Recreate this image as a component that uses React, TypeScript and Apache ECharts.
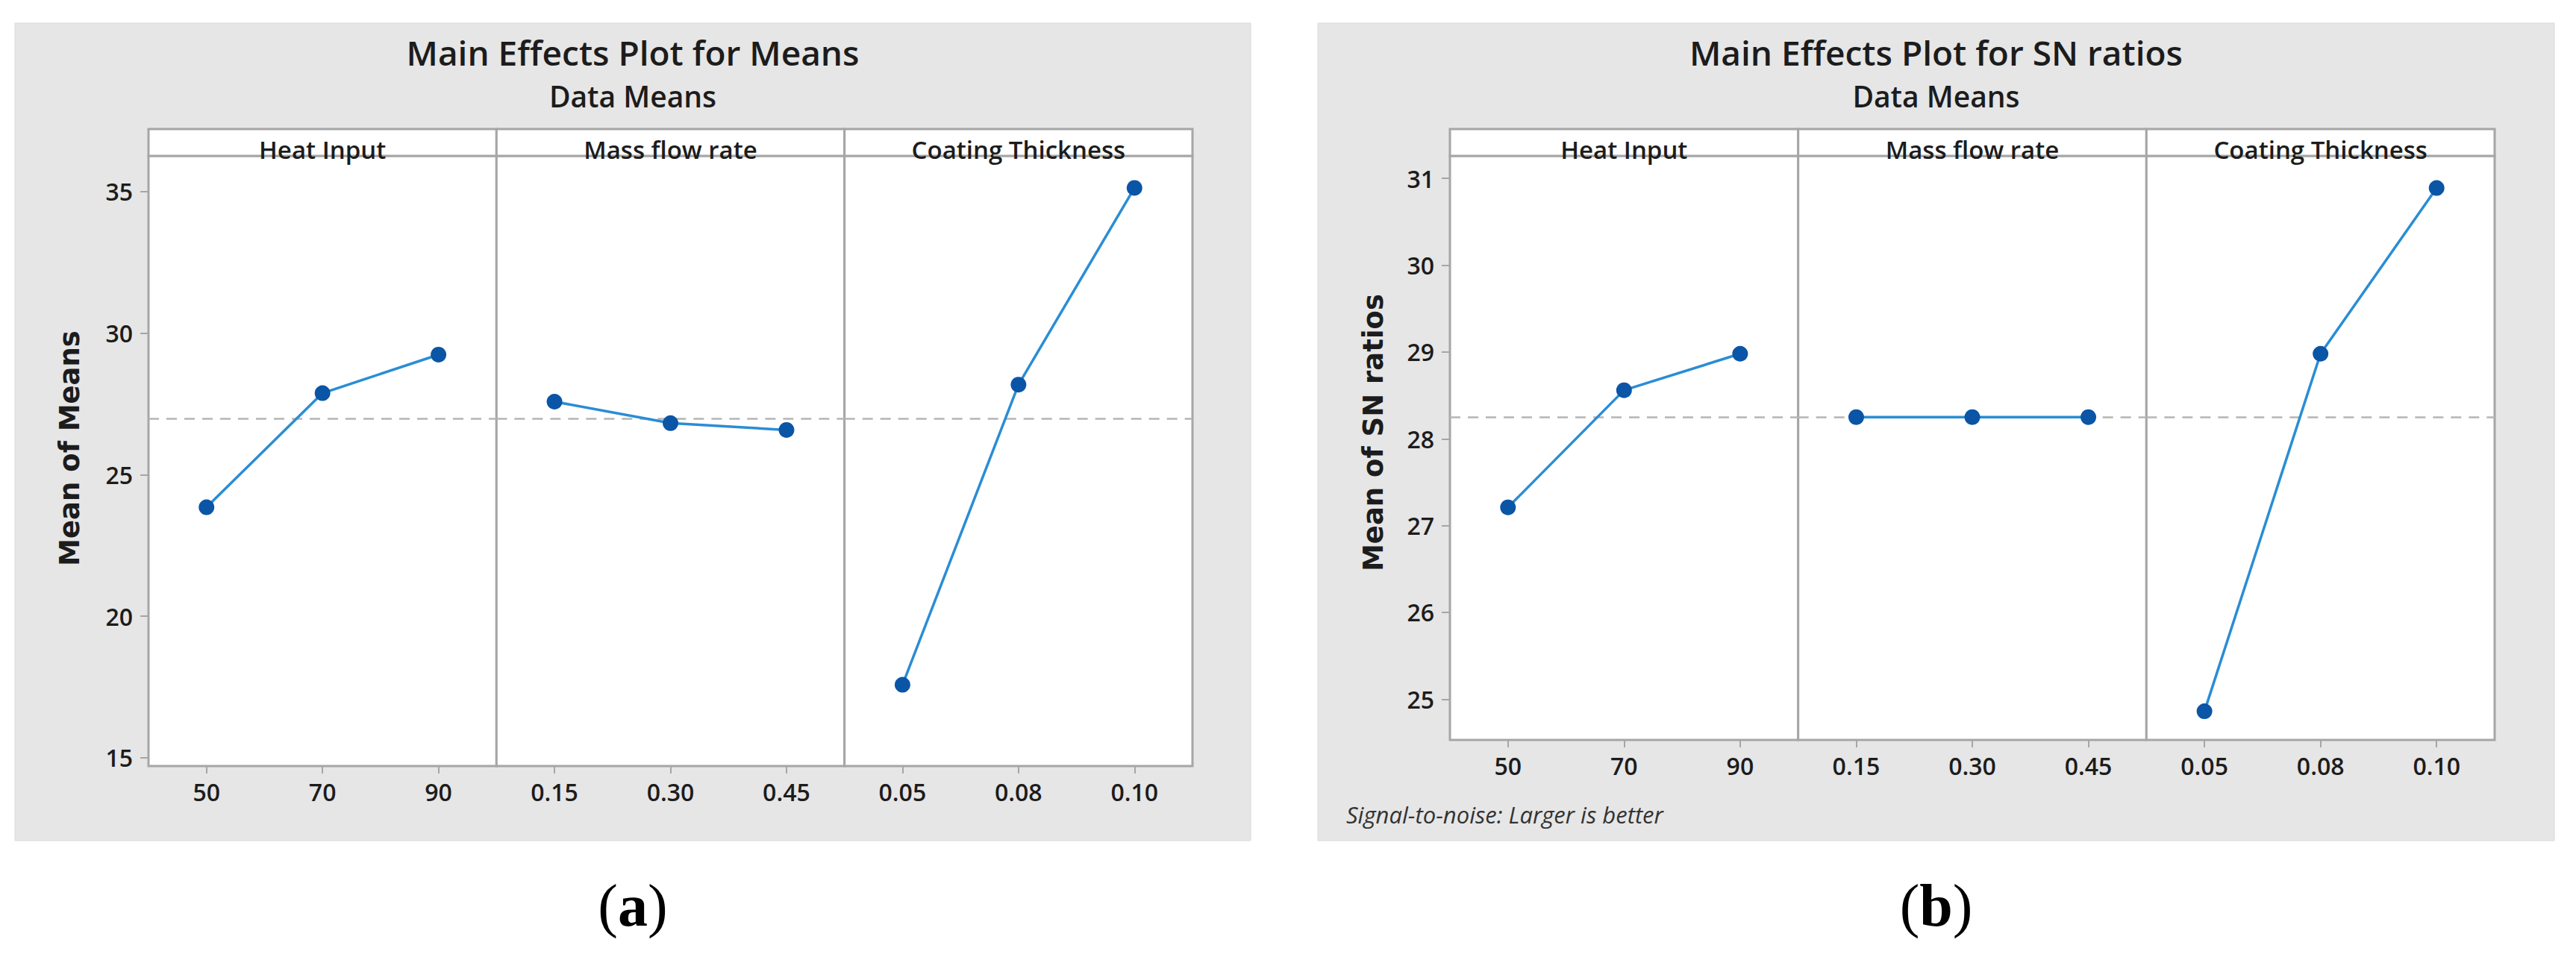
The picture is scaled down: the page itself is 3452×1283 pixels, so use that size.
import React, { useEffect, useRef } from "react";
import * as echarts from "echarts";

// ---------- data ----------
const factorNames = ["Heat Input", "Mass flow rate", "Coating Thickness"];
const heatInputLevels = ["50", "70", "90"];
const massFlowLevels = ["0.15", "0.30", "0.45"];
const coatingLevels = ["0.05", "0.08", "0.10"];

const meansHeat = [23.85, 27.88, 29.24];
const meansMass = [27.58, 26.82, 26.58];
const meansCoat = [17.58, 28.18, 35.13];

const snHeat = [27.21, 28.56, 28.98];
const snMass = [28.25, 28.25, 28.25];
const snCoat = [24.86, 28.98, 30.89];

const meansTicks = [15, 20, 25, 30, 35];
const snTicks = [25, 26, 27, 28, 29, 30, 31];

const levelSets = [heatInputLevels, massFlowLevels, coatingLevels];

// ---------- layout / style ----------
const W = 3452;
const H = 1283;
const FRAME = "#a6a6a6";
const LINE_BLUE = "#2a8dd4";
const DOT_BLUE = "#0a55a6";
const TXT = "#1c1c1c";

const charts = [
  {
    box: [20, 31, 1656, 1096],
    plotLeft: 199,
    plotRight: 1598,
    stripTop: 173,
    top: 209,
    bottom: 1027,
    yMin: 14.71,
    yMax: 36.26,
    ticks: meansTicks,
    series: [meansHeat, meansMass, meansCoat],
    title: "Main Effects Plot for Means",
    subtitle: "Data Means",
    yName: "Mean of Means",
    yNameX: 93,
    yNameY: 601,
    caption: "a",
    footnote: "",
  },
  {
    box: [1766, 31, 1657, 1096],
    plotLeft: 1943,
    plotRight: 3343,
    stripTop: 173,
    top: 209,
    bottom: 992,
    yMin: 24.53,
    yMax: 31.26,
    ticks: snTicks,
    series: [snHeat, snMass, snCoat],
    title: "Main Effects Plot for SN ratios",
    subtitle: "Data Means",
    yName: "Mean of SN ratios",
    yNameX: 1840,
    yNameY: 580,
    caption: "b",
    footnote: "Signal-to-noise: Larger is better",
  },
];

function grandMean(groups: number[][]) {
  const all = groups.flat();
  return all.reduce((a, b) => a + b, 0) / all.length;
}

function buildOption() {
  const grids: any[] = [];
  const xAxes: any[] = [];
  const yAxes: any[] = [];
  const series: any[] = [];
  const titles: any[] = [];
  const graphics: any[] = [];

  charts.forEach((c, ci) => {
    const [bx, by, bw, bh] = c.box;
    const pw = (c.plotRight - c.plotLeft) / 3;
    const mean = grandMean(c.series);

    graphics.push({
      type: "rect",
      z: -5,
      shape: { x: bx, y: by, width: bw, height: bh },
      style: { fill: "#e6e6e6", stroke: "#d9d9d9", lineWidth: 1 },
      silent: true,
    });

    titles.push({
      text: c.title,
      left: bx + bw / 2,
      top: 47,
      textAlign: "center",
      padding: 0,
      textStyle: {
        fontFamily: "Open Sans",
        fontWeight: 600,
        fontSize: 46,
        lineHeight: 46,
        color: TXT,
      },
    });
    titles.push({
      text: c.subtitle,
      left: bx + bw / 2,
      top: 109,
      textAlign: "center",
      padding: 0,
      textStyle: {
        fontFamily: "Open Sans",
        fontWeight: 600,
        fontSize: 39,
        lineHeight: 39,
        color: TXT,
      },
    });

    for (let p = 0; p < 3; p++) {
      const gi = ci * 3 + p;
      const left = c.plotLeft + p * pw;
      grids.push({
        left,
        top: c.top,
        width: pw,
        height: c.bottom - c.top,
        show: true,
        backgroundColor: "#ffffff",
        borderColor: FRAME,
        borderWidth: 3,
        containLabel: false,
      });
      xAxes.push({
        gridIndex: gi,
        type: "category",
        data: levelSets[p],
        boundaryGap: true,
        axisLine: { show: false },
        axisTick: {
          show: true,
          alignWithLabel: true,
          length: 10,
          lineStyle: { color: FRAME, width: 2 },
        },
        axisLabel: {
          margin: 18,
          fontFamily: "Open Sans",
          fontWeight: 600,
          fontSize: 32,
          color: TXT,
        },
        splitLine: { show: false },
      });
      yAxes.push({
        gridIndex: gi,
        type: "value",
        min: c.yMin,
        max: c.yMax,
        axisLine: { show: false },
        axisTick: {
          show: p === 0,
          length: 11,
          customValues: c.ticks,
          lineStyle: { color: FRAME, width: 2 },
        },
        axisLabel: {
          show: p === 0,
          customValues: c.ticks,
          margin: 21,
          fontFamily: "Open Sans",
          fontWeight: 600,
          fontSize: 32,
          color: TXT,
        },
        splitLine: { show: false },
      });
      series.push({
        type: "line",
        name: `${c.yName} - ${factorNames[p]}`,
        xAxisIndex: gi,
        yAxisIndex: gi,
        data: c.series[p],
        symbol: "circle",
        symbolSize: 21,
        lineStyle: { color: LINE_BLUE, width: 3.5 },
        itemStyle: { color: DOT_BLUE },
        z: 3,
        markLine: {
          silent: true,
          symbol: "none",
          label: { show: false },
          lineStyle: { type: [14, 10], color: "#b5b5b5", width: 2.5 },
          data: [{ yAxis: mean }],
          z: 1,
        },
      });

      // strip header
      graphics.push({
        type: "rect",
        z: 5,
        shape: { x: left, y: c.stripTop, width: pw, height: c.top - c.stripTop },
        style: { fill: "#ffffff", stroke: FRAME, lineWidth: 3 },
        silent: true,
      });
      graphics.push({
        type: "text",
        z: 6,
        x: left + pw / 2,
        y: 200,
        style: {
          text: factorNames[p],
          textAlign: "center",
          textVerticalAlign: "middle",
          fontFamily: "Open Sans",
          fontWeight: 600,
          fontSize: 33,
          fill: TXT,
        },
        silent: true,
      });
    }

    // y axis title
    graphics.push({
      type: "text",
      z: 6,
      x: c.yNameX,
      y: c.yNameY,
      rotation: Math.PI / 2,
      style: {
        text: c.yName,
        textAlign: "center",
        textVerticalAlign: "middle",
        fontFamily: "DejaVu Sans",
        fontWeight: "bold",
        fontSize: 37,
        fill: TXT,
      },
      silent: true,
    });

    if (c.footnote) {
      graphics.push({
        type: "text",
        z: 6,
        x: bx + 38,
        y: 1092,
        style: {
          text: c.footnote,
          textAlign: "left",
          textVerticalAlign: "middle",
          fontFamily: "Open Sans",
          fontStyle: "italic",
          fontSize: 31,
          fill: "#333333",
        },
        silent: true,
      });
    }

    // caption (a)/(b)
    graphics.push({
      type: "text",
      z: 6,
      x: bx + bw / 2,
      y: 1214,
      style: {
        text: `{p|(}{b|${c.caption}}{p|)}`,
        textAlign: "center",
        textVerticalAlign: "middle",
        rich: {
          p: { fontFamily: "Liberation Serif", fontSize: 80, fill: "#000" },
          b: {
            fontFamily: "Liberation Serif",
            fontSize: 80,
            fontWeight: "bold",
            fill: "#000",
          },
        },
      },
      silent: true,
    });
  });

  return {
    animation: false,
    backgroundColor: "#ffffff",
    title: titles,
    grid: grids,
    xAxis: xAxes,
    yAxis: yAxes,
    series,
    graphic: { elements: graphics },
  };
}

export default function App() {
  const ref = useRef<HTMLDivElement>(null);
  useEffect(() => {
    if (!ref.current) return;
    const chart = echarts.init(ref.current, undefined, { renderer: "svg" });
    chart.setOption(buildOption() as any);
    return () => chart.dispose();
  }, []);
  return (
    <div
      ref={ref}
      style={{ position: "absolute", left: 0, top: 0, width: W, height: H }}
    />
  );
}
